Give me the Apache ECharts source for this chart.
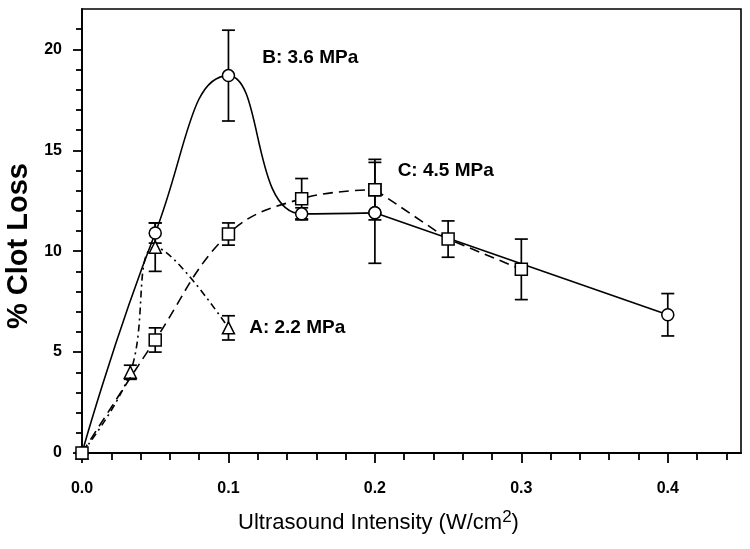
<!DOCTYPE html>
<html>
<head>
<meta charset="utf-8">
<script src="https://cdn.jsdelivr.net/npm/echarts@6/dist/echarts.min.js"></script>
<style>
  html, body { margin: 0; padding: 0; background: #fff; }
  #chart { width: 750px; height: 549px; }
</style>
</head>
<body>
<div id="chart"></div>
<script>
// ---- Data ----
// Series A: 2.2 MPa (triangles, dash-dot)
const xA = [0, 0.033, 0.05, 0.1];
const yA = [0, 4.0, 10.2, 6.2];
const eA = [0, 0.35, 1.2, 0.6];
// Series B: 3.6 MPa (circles, solid)
const xB = [0, 0.05, 0.1, 0.15, 0.2, 0.4];
const yB = [0, 10.9, 18.7, 11.85, 11.9, 6.85];
const eB = [0, 0.5, 2.25, 0.3, 2.5, 1.05];
// Series C: 4.5 MPa (squares, dashed)
const xC = [0, 0.05, 0.1, 0.15, 0.2, 0.25, 0.3];
const yC = [0, 5.6, 10.85, 12.6, 13.05, 10.6, 9.1];
const eC = [0, 0.6, 0.55, 1.0, 1.5, 0.9, 1.5];

const seriesNames = ['A: 2.2 MPa', 'B: 3.6 MPa', 'C: 4.5 MPa'];
// index of the point that carries each series' annotation
const labelIndex = [3, 2, 4];
// index where each curve stops being curved and continues as straight segments
const curveEnd = [3, 4, 4];
const smoothness = [0.4, 0.5, 0.4];

// Axis ticks
const xMajorTicks = [0, 0.1, 0.2, 0.3, 0.4];
const xMinorTicks = [0.02, 0.04, 0.06, 0.08, 0.12, 0.14, 0.16, 0.18, 0.22, 0.24, 0.26, 0.28,
                     0.32, 0.34, 0.36, 0.38, 0.42, 0.44];
const yMajorTicks = [0, 5, 10, 15, 20];
const yMinorTicks = [1, 2, 3, 4, 6, 7, 8, 9, 11, 12, 13, 14, 16, 17, 18, 19, 21];

const xTitle = 'Ultrasound Intensity (W/cm{sup|2})';
const yTitle = '% Clot Loss';

// ---- Helpers ----
function pairs(xs, ys) { return xs.map((x, i) => [x, ys[i]]); }
function errData(xs, ys, es) {
  const out = [];
  xs.forEach((x, i) => { if (es[i] > 0) out.push([x, ys[i] - es[i], ys[i] + es[i]]); });
  return out;
}
const annoFont = 'Liberation Sans, Arial, sans-serif';
function withLabel(data, idx, text, opts) {
  return data.map((d, i) => i === idx ? {
    value: d,
    label: Object.assign({
      show: true, formatter: text, color: '#000', fontWeight: 'bold',
      fontFamily: annoFont, fontSize: 19
    }, opts)
  } : d);
}

function renderErr(params, api) {
  const x = api.value(0), lo = api.value(1), hi = api.value(2);
  const a = api.coord([x, lo]);
  const b = api.coord([x, hi]);
  const hw = 6.5;
  const st = { stroke: '#000', lineWidth: 1.7 };
  return {
    type: 'group',
    children: [
      { type: 'line', shape: { x1: a[0], y1: a[1], x2: b[0], y2: b[1] }, style: st },
      { type: 'line', shape: { x1: a[0] - hw, y1: a[1], x2: a[0] + hw, y2: a[1] }, style: st },
      { type: 'line', shape: { x1: b[0] - hw, y1: b[1], x2: b[0] + hw, y2: b[1] }, style: st }
    ]
  };
}

const markerStyle = { color: '#fff', borderColor: '#000', borderWidth: 1.5 };
const symbols = ['triangle', 'circle', 'rect'];
const dashes = [[7, 4, 2, 4], 'solid', [10, 6]];
const labelOpts = [
  { position: 'right', distance: 14 },
  { position: 'right', distance: 27, offset: [0, -18] },
  { position: 'right', distance: 16, offset: [0, -19] }
];
const allX = [xA, xB, xC], allY = [yA, yB, yC];

function lineSeries(k) {
  const pts = pairs(allX[k], allY[k]);
  const curved = withLabel(pts.slice(0, curveEnd[k] + 1), labelIndex[k], seriesNames[k], labelOpts[k]);
  const straight = pts.slice(curveEnd[k]);
  const base = {
    type: 'line', z: 3 + k, symbol: symbols[k], symbolSize: 12, itemStyle: markerStyle,
    lineStyle: { color: '#000', width: 1.6, type: dashes[k] }
  };
  const out = [Object.assign({}, base, { name: seriesNames[k], smooth: smoothness[k], data: curved })];
  if (straight.length > 1) out.push(Object.assign({}, base, { name: seriesNames[k] + ' ', smooth: false, data: straight }));
  return out;
}

const chart = echarts.init(document.getElementById('chart'), null, { renderer: 'canvas' });

const option = {
  animation: false,
  backgroundColor: '#fff',
  grid: {
    left: 82, right: 9, top: 9, bottom: 96, containLabel: false, outerBoundsMode: 'none',
    show: true, borderColor: '#000', borderWidth: 1.6, backgroundColor: 'transparent'
  },
  xAxis: [
    {
      type: 'value', min: 0, max: 0.45, position: 'bottom',
      axisLine: { show: true, onZero: false, lineStyle: { color: '#000', width: 1.8 } },
      axisTick: { show: true, length: 10, customValues: xMajorTicks, lineStyle: { color: '#000', width: 1.8 } },
      axisLabel: {
        customValues: xMajorTicks, margin: 28, color: '#000', fontWeight: 'bold', fontSize: 16,
        fontFamily: annoFont, formatter: v => v.toFixed(1)
      },
      splitLine: { show: false },
      name: xTitle, nameLocation: 'middle', nameGap: 56,
      nameTextStyle: {
        color: '#000', fontSize: 22, fontFamily: annoFont, padding: [0, 66, 0, 0],
        rich: { sup: { fontSize: 17, verticalAlign: 'top', fontFamily: annoFont, color: '#000', padding: [0, 0, 10, 0] } }
      }
    },
    {
      type: 'value', min: 0, max: 0.45, position: 'bottom',
      axisLine: { show: false },
      axisTick: { show: true, length: 7, customValues: xMinorTicks, lineStyle: { color: '#000', width: 1.8 } },
      axisLabel: { show: false },
      splitLine: { show: false }
    }
  ],
  yAxis: [
    {
      type: 'value', min: 0, max: 22, position: 'left',
      axisLine: { show: true, onZero: false, lineStyle: { color: '#000', width: 1.8 } },
      axisTick: { show: true, length: 9, customValues: yMajorTicks, lineStyle: { color: '#000', width: 1.8 } },
      axisLabel: {
        customValues: yMajorTicks, margin: 20, color: '#000', fontWeight: 'bold', fontSize: 16,
        fontFamily: annoFont
      },
      splitLine: { show: false },
      name: yTitle, nameLocation: 'middle', nameGap: 49,
      nameTextStyle: {
        color: '#000', fontSize: 29, fontWeight: 'bold', fontFamily: annoFont, padding: [0, 30, 0, 0]
      }
    },
    {
      type: 'value', min: 0, max: 22, position: 'left',
      axisLine: { show: false },
      axisTick: { show: true, length: 6, customValues: yMinorTicks, lineStyle: { color: '#000', width: 1.8 } },
      axisLabel: { show: false },
      splitLine: { show: false }
    }
  ],
  series: [
    // error bars (drawn beneath the markers)
    { type: 'custom', renderItem: renderErr, data: errData(xA, yA, eA), z: 1, silent: true },
    { type: 'custom', renderItem: renderErr, data: errData(xB, yB, eB), z: 1, silent: true },
    { type: 'custom', renderItem: renderErr, data: errData(xC, yC, eC), z: 1, silent: true }
  ].concat(lineSeries(0), lineSeries(1), lineSeries(2))
};

chart.setOption(option);
</script>
</body>
</html>
